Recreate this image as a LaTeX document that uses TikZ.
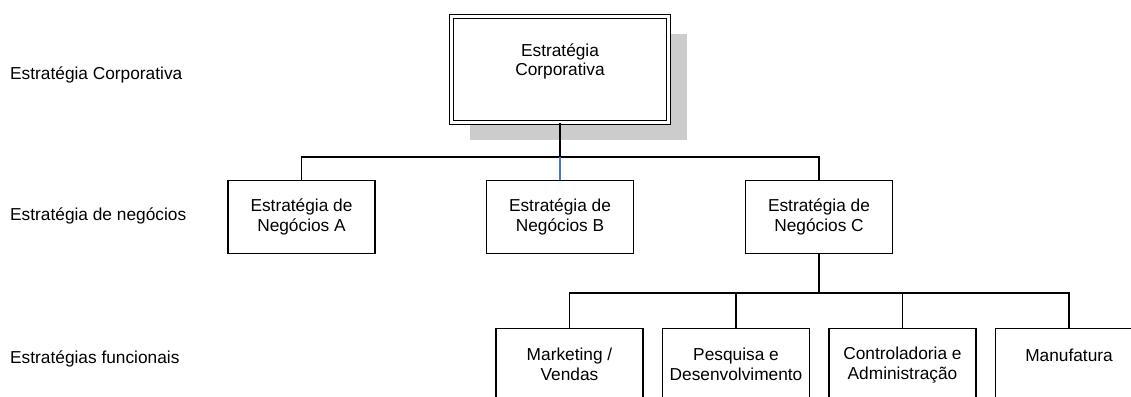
\documentclass[tikz,border=0pt]{standalone}
\usepackage{fontspec}
\setmainfont{Liberation Sans}
\usetikzlibrary{shadows}
\definecolor{shadowgray}{RGB}{204,204,204}
\definecolor{linkblue}{RGB}{70,120,200}
\tikzset{
	stratbox/.style={draw, line width=1.2pt, fill=white, minimum width=147pt, minimum height=73pt, align=center, inner sep=0pt},
	corpbox/.style={stratbox, double, double distance=2.4pt, minimum width=217pt, minimum height=106pt,
		general shadow={fill=shadowgray, shadow xshift=18.5pt, shadow yshift=-18pt}},
	levellabel/.style={anchor=base west, inner sep=0pt},
	orgline/.style={line width=1.3pt},
	bluelink/.style={orgline, color=linkblue}
}

\begin{document}
\begin{tikzpicture}[x=1pt, y=1pt, font=\fontsize{17.3}{19.8}\selectfont]
		%%%%% START %%%%%
		\useasboundingbox (0, 0) rectangle (1131, 396);
		\clip (0, 0) rectangle (1131, 396);
		
		\node[levellabel] (lblcorp) at (10, 316) {Estratégia Corporativa};
		\node[levellabel] (lblneg) at (10, 175.3) {Estratégia de negócios};
		\node[levellabel] (lblfunc) at (10, 32.3) {Estratégias funcionais};
		
		\node[corpbox] (corp) at (560, 326.5) {Estratégia\\Corporativa\\\mbox{}};
		
		\node[stratbox] (nega) at (301.5, 179) {Estratégia de\\Negócios A};
		\node[stratbox] (negb) at (560, 179) {Estratégia de\\Negócios B};
		\node[stratbox] (negc) at (819, 179) {Estratégia de\\Negócios C};
		
		\node[stratbox] (mkt) at (569.5, 31.3) {Marketing /\\Vendas};
		\node[stratbox] (ped) at (736, 31.3) {Pesquisa e\\Desenvolvimento};
		\node[stratbox] (ctrl) at (902.5, 31.3) {Controladoria e\\Administração};
		\node[stratbox] (manuf) at (1069, 31.3) {Manufatura\\\mbox{}};
		
		% corporate -> business
		\path (corp.south) ++(0, -34) coordinate (busone);
		\draw[orgline] (corp.south) -- (busone);
		\draw[orgline] (nega.north) |- (busone) -| (negc.north);
		\draw[bluelink] (busone) -- (negb.north);
		
		% business C -> functional
		\path (negc.south) ++(0, -39) coordinate (bustwo);
		\draw[orgline] (negc.south) -- (bustwo);
		\draw[orgline] (mkt.north) |- (bustwo) -| (manuf.north);
		\draw[orgline] (ped.north) -- (ped.north |- bustwo);
		\draw[orgline] (ctrl.north) -- (ctrl.north |- bustwo);
		
		%%%%% END %%%%%
\end{tikzpicture}
\end{document}
